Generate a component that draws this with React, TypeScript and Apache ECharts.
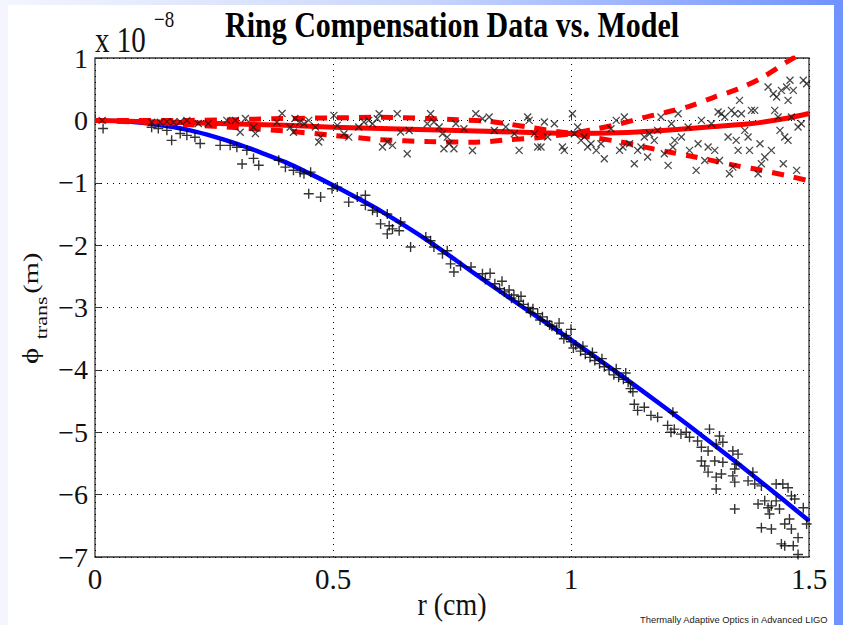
import React, { useEffect, useRef } from "react";
import * as echarts from "echarts";

// ---- data (r in cm, phi in units of 1e-8 m) ----
const blueR = [0, 0.05, 0.1, 0.15, 0.2, 0.25, 0.3, 0.35, 0.4, 0.45, 0.5, 0.55, 0.6, 0.7, 0.8, 0.9, 1.0, 1.1, 1.2, 1.3, 1.4, 1.5];
const blueV = [0, -0.01, -0.04, -0.09, -0.16, -0.26, -0.38, -0.52, -0.67, -0.85, -1.04, -1.24, -1.45, -1.93, -2.47, -3.0, -3.52, -4.06, -4.62, -5.2, -5.8, -6.42];

const redR = [0, 0.2, 0.4, 0.5, 0.7, 0.9, 1.0, 1.1, 1.2, 1.25, 1.3, 1.38, 1.45, 1.5];
const redV = [0, -0.04, -0.08, -0.11, -0.15, -0.19, -0.21, -0.2, -0.16, -0.13, -0.1, -0.05, 0.03, 0.11];

const upR = [0, 0.2, 0.4, 0.5, 0.6, 0.7, 0.76, 0.82, 0.87, 0.92, 1.0, 1.05, 1.1, 1.15, 1.2, 1.25, 1.3, 1.35, 1.4, 1.45, 1.5];
const upV = [0, 0.0, 0.03, 0.04, 0.05, 0.03, 0.01, -0.01, -0.06, -0.12, -0.2, -0.14, -0.06, 0.04, 0.13, 0.23, 0.37, 0.5, 0.68, 0.92, 1.15];

const loR = [0, 0.1, 0.2, 0.3, 0.4, 0.5, 0.6, 0.7, 0.8, 0.87, 0.93, 1.0, 1.05, 1.1, 1.15, 1.2, 1.25, 1.3, 1.35, 1.4, 1.45, 1.5];
const loV = [0, -0.03, -0.07, -0.12, -0.17, -0.24, -0.31, -0.34, -0.35, -0.31, -0.28, -0.22, -0.28, -0.34, -0.42, -0.5, -0.57, -0.65, -0.73, -0.8, -0.88, -0.97];

// compensated data ("x" markers)
const crossPts: [number, number][] = [
  [0.015, 0.0], [0.119, -0.03], [0.137, -0.03], [0.151, -0.02], [0.165, -0.03], [0.179, -0.02], [0.193, 0.0],
  [0.217, -0.05], [0.238, -0.05], [0.277, 0.0], [0.295, 0.0], [0.305, -0.19], [0.316, 0.03], [0.333, -0.11],
  [0.337, -0.21], [0.382, -0.03], [0.393, 0.11], [0.41, -0.11], [0.417, -0.19], [0.42, 0.03], [0.43, -0.03],
  [0.439, -0.054], [0.449, 0.0], [0.463, -0.107], [0.47, -0.348], [0.474, -0.268], [0.502, 0.08], [0.509, -0.08],
  [0.523, -0.214], [0.533, -0.268], [0.554, -0.107], [0.565, -0.027], [0.575, 0.0], [0.583, -0.054], [0.593, 0.027],
  [0.597, 0.107], [0.604, -0.428], [0.614, -0.348], [0.625, -0.401], [0.635, 0.107], [0.642, -0.187], [0.656, -0.535],
  [0.66, -0.161], [0.698, -0.054], [0.705, 0.107], [0.712, -0.027], [0.723, -0.107], [0.73, -0.214], [0.733, -0.455],
  [0.74, -0.268], [0.744, -0.375], [0.754, -0.455], [0.758, -0.054], [0.775, -0.134], [0.793, -0.482], [0.8, 0.107],
  [0.814, 0.027], [0.828, 0.053], [0.839, -0.161],
  [0.863, -0.107], [0.881, -0.214], [0.891, -0.481], [0.909, 0.054], [0.912, 0.0], [0.923, -0.214], [0.93, -0.428],
  [0.937, -0.428], [0.944, -0.027], [0.951, -0.267], [0.965, -0.053], [0.982, -0.428], [0.986, -0.481], [1.003, 0.107],
  [1.007, -0.214], [1.014, -0.107], [1.021, -0.321], [1.028, -0.267], [1.035, -0.428], [1.042, -0.374], [1.053, -0.481],
  [1.063, -0.374], [1.07, -0.615], [1.084, -0.134], [1.095, 0.0], [1.102, -0.481], [1.109, -0.428], [1.112, 0.054],
  [1.123, -0.374], [1.133, -0.695], [1.14, -0.481], [1.147, -0.428], [1.154, -0.267], [1.161, -0.588], [1.165, -0.214],
  [1.175, -0.321], [1.182, -0.16], [1.189, 0.054], [1.196, -0.535], [1.204, -0.722], [1.211, -0.053], [1.214, -0.428],
  [1.218, -0.321], [1.225, 0.107], [1.232, -0.267], [1.246, -0.107], [1.249, -0.481], [1.263, -0.802], [1.267, -0.374],
  [1.274, 0.0], [1.281, -0.642], [1.288, -0.428], [1.295, -0.053], [1.302, -0.481], [1.309, 0.134], [1.312, -0.642],
  [1.316, 0.107], [1.323, 0.054], [1.33, -0.267], [1.333, -0.856], [1.337, 0.16], [1.34, -0.749], [1.344, 0.107],
  [1.347, -0.321], [1.351, -0.481], [1.354, 0.321], [1.358, 0.107], [1.365, -0.16], [1.372, -0.267], [1.375, -0.481],
  [1.379, 0.16], [1.386, 0.16], [1.393, -0.856], [1.397, -0.374], [1.4, -0.695], [1.407, -0.588], [1.414, 0.535],
  [1.421, -0.481], [1.425, 0.428], [1.428, 0.16], [1.432, 0.374], [1.435, 0.054], [1.439, -0.16], [1.442, 0.481],
  [1.446, -0.695], [1.449, -0.267], [1.453, 0.535], [1.456, 0.321], [1.456, -0.321], [1.46, 0.642], [1.463, 0.054],
  [1.467, 0.481], [1.474, -0.802], [1.477, -0.107], [1.484, -0.053], [1.488, 0.642], [1.495, 0.588],
];

// uncompensated data ("+" markers)
const plusPts: [number, number][] = [
  [0.017, -0.13], [0.119, -0.11], [0.133, -0.13], [0.151, -0.16], [0.161, -0.32], [0.179, -0.21], [0.193, -0.24],
  [0.21, -0.27], [0.221, -0.37], [0.263, -0.4], [0.284, -0.4], [0.298, -0.43], [0.309, -0.7], [0.319, -0.48],
  [0.333, -0.61], [0.344, -0.72], [0.386, -0.64], [0.4, -0.75], [0.417, -0.8], [0.431, -0.83],
  [0.439, -0.856], [0.453, -0.83], [0.449, -1.177], [0.474, -1.23], [0.498, -1.097], [0.509, -1.07], [0.533, -1.31],
  [0.551, -1.23], [0.568, -1.2], [0.568, -1.36], [0.583, -1.44], [0.593, -1.47], [0.6, -1.66], [0.614, -1.5],
  [0.618, -1.69], [0.625, -1.74], [0.639, -1.77], [0.642, -1.63], [0.614, -1.82], [0.663, -2.03], [0.695, -1.87],
  [0.705, -1.93], [0.712, -2.03], [0.73, -2.14], [0.74, -2.09], [0.747, -2.3], [0.754, -2.43], [0.768, -2.33],
  [0.79, -2.35], [0.814, -2.46],
  [0.82, -2.55], [0.83, -2.45], [0.84, -2.62], [0.85, -2.7], [0.855, -2.58], [0.86, -2.75], [0.87, -2.72],
  [0.875, -2.85], [0.88, -2.8], [0.89, -2.9], [0.895, -2.82], [0.9, -2.95], [0.91, -3.0], [0.915, -3.08],
  [0.92, -3.02], [0.93, -3.1], [0.935, -3.2], [0.94, -3.15], [0.95, -3.22], [0.955, -3.28], [0.96, -3.3],
  [0.97, -3.35], [0.975, -3.25], [0.98, -3.42], [0.985, -3.5], [0.99, -3.45], [1.0, -3.55], [1.0, -3.35],
  [1.005, -3.65], [1.01, -3.6], [1.02, -3.7], [1.025, -3.62], [1.03, -3.75], [1.04, -3.8], [1.045, -3.72],
  [1.05, -3.85], [1.06, -3.9], [1.065, -3.82], [1.07, -3.95], [1.08, -4.0], [1.09, -4.08], [1.095, -3.98],
  [1.1, -4.12], [1.11, -4.15], [1.115, -4.05], [1.12, -4.2], [1.125, -4.3], [1.13, -4.35],
  [1.133, -4.55], [1.14, -4.65], [1.154, -4.6], [1.168, -4.73], [1.182, -4.76], [1.214, -4.68], [1.203, -4.89],
  [1.21, -5.0], [1.217, -4.95], [1.231, -5.03], [1.242, -5.0], [1.249, -5.08], [1.266, -5.14], [1.274, -5.24],
  [1.288, -5.3], [1.291, -4.95], [1.305, -5.19], [1.312, -5.06], [1.319, -5.48], [1.319, -5.16], [1.34, -5.3],
  [1.344, -5.59], [1.347, -5.51], [1.351, -5.35], [1.302, -5.46], [1.274, -5.46], [1.281, -5.54], [1.288, -5.64],
  [1.305, -5.72], [1.305, -5.91], [1.316, -5.67], [1.34, -5.7], [1.344, -5.8], [1.372, -5.78], [1.382, -5.64],
  [1.386, -5.83], [1.393, -6.15], [1.4, -5.86], [1.407, -6.1], [1.414, -6.21], [1.417, -6.31], [1.421, -6.18],
  [1.431, -5.83], [1.431, -6.1], [1.438, -6.23], [1.445, -5.83], [1.456, -5.89], [1.463, -6.02], [1.47, -6.07],
  [1.459, -6.39], [1.449, -6.47], [1.463, -6.55], [1.442, -6.79], [1.449, -6.82], [1.467, -6.82], [1.477, -6.69],
  [1.477, -6.96], [1.344, -6.23], [1.4, -6.53], [1.421, -6.55], [1.488, -6.21], [1.495, -6.47],
];

const xTicks = [0, 0.5, 1, 1.5];
const yTicks = [1, 0, -1, -2, -3, -4, -5, -6, -7];

const zip = (r: number[], v: number[]) => r.map((x, i) => [x, v[i]]);
const serif = '"Liberation Serif", "DejaVu Serif", serif';

export default function App() {
  const ref = useRef<HTMLDivElement>(null);
  useEffect(() => {
    if (!ref.current) return;
    const chart = echarts.init(ref.current, undefined, { renderer: "svg" });
    const fmtY = (v: number) => (v < 0 ? "\u2212" + Math.abs(v) : String(v));
    chart.setOption({
      animation: false,
      backgroundColor: "#ffffff",
      grid: {
        left: 95, top: 58, width: 714, height: 499,
        show: true, borderColor: "#333", borderWidth: 1.3, backgroundColor: "transparent",
      },
      xAxis: {
        type: "value", min: xTicks[0], max: xTicks[xTicks.length - 1], interval: 0.5,
        axisLine: { show: false },
        axisTick: { show: true, inside: true, length: 6, lineStyle: { color: "#333" } },
        axisLabel: { fontFamily: serif, fontSize: 29, color: "#111", margin: 7, formatter: (v: number) => String(v) },
        splitLine: { show: true, lineStyle: { color: "#000", type: [1, 5], width: 1 } },
      },
      yAxis: {
        type: "value", min: yTicks[yTicks.length - 1], max: yTicks[0], interval: 1,
        axisLine: { show: false },
        axisTick: { show: true, inside: true, length: 6, lineStyle: { color: "#333" } },
        axisLabel: { fontFamily: serif, fontSize: 28, color: "#111", margin: 7, formatter: fmtY },
        splitLine: { show: true, lineStyle: { color: "#000", type: [1, 5], width: 1 } },
      },
      series: [
        { type: "line", data: zip(blueR, blueV), smooth: 0.3, showSymbol: false, silent: true, z: 2,
          lineStyle: { color: "#0000ff", width: 4.5 } },
        { type: "line", data: zip(redR, redV), smooth: 0.3, showSymbol: false, silent: true, z: 2,
          lineStyle: { color: "#ff0000", width: 5 } },
        { type: "line", data: zip(upR, upV), smooth: 0.3, showSymbol: false, silent: true, z: 2,
          lineStyle: { color: "#ff0000", width: 5, type: [12, 10] } },
        { type: "line", data: zip(loR, loV), smooth: 0.3, showSymbol: false, silent: true, z: 2,
          lineStyle: { color: "#ff0000", width: 5, type: [12, 10] } },
        { type: "scatter", data: plusPts, symbol: "path://M0,5L10,5M5,0L5,10", symbolSize: 10, silent: true, z: 3,
          itemStyle: { color: "transparent", borderColor: "#000", borderWidth: 1.4 } },
        { type: "scatter", data: crossPts, symbol: "path://M0,0L10,10M10,0L0,10", symbolSize: 7, silent: true, z: 3,
          itemStyle: { color: "transparent", borderColor: "#1a1a1a", borderWidth: 1.3 } },
      ],
      graphic: [
        { type: "text", x: 452, y: 25, scaleY: 1.2, z: 10, style: { text: "Ring Compensation Data vs. Model", textAlign: "center",
          textVerticalAlign: "middle", font: `bold 30px ${serif}`, fill: "#000" } },
        { type: "text", x: 95, y: 40, scaleY: 1.2, z: 10, style: { text: "x 10", textAlign: "left", textVerticalAlign: "middle",
          font: `29px ${serif}`, fill: "#111" } },
        { type: "text", x: 154, y: 19, scaleY: 1.2, z: 10, style: { text: "\u22128", textAlign: "left", textVerticalAlign: "middle",
          font: `19px ${serif}`, fill: "#111" } },
        { type: "text", x: 452, y: 605, scaleY: 1.1, z: 10, style: { text: "r (cm)", textAlign: "center", textVerticalAlign: "middle",
          font: `28px ${serif}`, fill: "#111" } },
        { type: "group", x: 42, y: 364, rotation: Math.PI / 2, scaleX: 1.3, z: 10, children: [
          { type: "text", x: 0, y: 0, style: { text: "\u03d5", textAlign: "left", textVerticalAlign: "bottom",
            font: `24px ${serif}`, fill: "#111" } },
          { type: "text", x: 19, y: 7, style: { text: "trans", textAlign: "left", textVerticalAlign: "bottom",
            font: `17px ${serif}`, fill: "#111" } },
          { type: "text", x: 54, y: 0, style: { text: "(m)", textAlign: "left", textVerticalAlign: "bottom",
            font: `22px ${serif}`, fill: "#111" } },
        ] },
        { type: "text", x: 640, y: 619, z: 10, style: { text: "Thermally Adaptive Optics in Advanced LIGO",
          textAlign: "left", textVerticalAlign: "middle", font: `9.4px "Liberation Sans", Arial, sans-serif`, fill: "#222" } },
        { type: "rect", z: 20, shape: { x: 0, y: 0, width: 8, height: 625 }, style: { fill: "#f4f5fe" } },
        { type: "rect", z: 21, shape: { x: 0, y: 0, width: 843, height: 5 }, style: {
          fill: new echarts.graphic.LinearGradient(0, 0, 1, 0, [
            { offset: 0, color: "#f4f6fe" }, { offset: 0.5, color: "#c9d6fc" }, { offset: 1, color: "#6f92ff" },
          ]) } },
        { type: "rect", z: 22, shape: { x: 834, y: 0, width: 9, height: 625 }, style: { fill: "#7093ff" } },
      ],
    });
    return () => chart.dispose();
  }, []);
  return <div ref={ref} style={{ position: "fixed", left: 0, top: 0, width: 843, height: 625 }} />;
}
